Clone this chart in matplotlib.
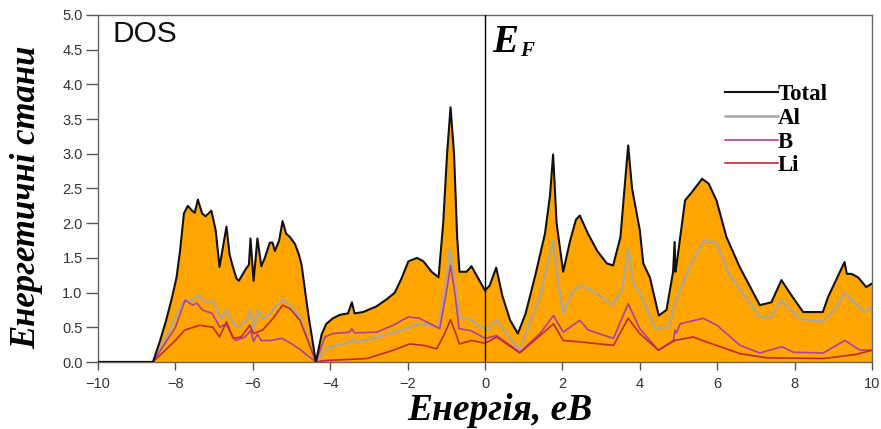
import matplotlib
matplotlib.use("Agg")
import matplotlib.pyplot as plt

# --- data (energy in eV, DOS) ---
total_e = [-10.0, -8.58, -8.4, -8.24, -8.1, -7.97, -7.88, -7.78, -7.68, -7.57, -7.50, -7.42,
           -7.31, -7.22, -7.07, -6.96, -6.86, -6.68, -6.60, -6.53, -6.42, -6.36, -6.17, -6.10,
           -6.06, -5.98, -5.88, -5.78, -5.69, -5.56, -5.49, -5.43, -5.32, -5.23, -5.14, -5.04,
           -4.91, -4.81, -4.74, -4.57, -4.37, -4.22, -4.10, -3.93, -3.75, -3.54, -3.44, -3.37,
           -3.15, -2.81, -2.55, -2.33, -2.16, -1.98, -1.76, -1.59, -1.38, -1.20, -1.08, -0.98,
           -0.89, -0.80, -0.72, -0.66, -0.48, -0.35, -0.22, 0.0, 0.12, 0.29, 0.45, 0.65,
           0.85, 1.05, 1.3, 1.55, 1.68, 1.76, 1.85, 2.02, 2.2, 2.35, 2.45, 2.58,
           2.66, 2.9, 3.15, 3.31, 3.50, 3.62, 3.70, 3.80, 4.00, 4.09, 4.26, 4.49,
           4.69, 4.86, 4.90, 4.92, 4.95, 5.17, 5.35, 5.61, 5.78, 5.98, 6.24, 6.58,
           7.10, 7.40, 7.66, 7.87, 8.22, 8.73, 8.86, 9.29, 9.35, 9.47, 9.64, 9.85, 10.0]
total_dos = [0.0, 0.0, 0.3, 0.6, 0.9, 1.22, 1.6, 2.14, 2.25, 2.18, 2.15, 2.34,
             2.14, 2.1, 2.18, 1.9, 1.37, 1.95, 1.55, 1.4, 1.2, 1.17, 1.35, 1.4,
             1.78, 1.17, 1.78, 1.38, 1.5, 1.72, 1.72, 1.6, 1.75, 2.03, 1.85, 1.8,
             1.7, 1.55, 1.4, 0.7, 0.0, 0.4, 0.55, 0.63, 0.68, 0.7, 0.86, 0.7,
             0.72, 0.8, 0.9, 1.0, 1.2, 1.45, 1.5, 1.45, 1.3, 1.22, 2.0, 3.0,
             3.67, 3.0, 1.8, 1.30, 1.30, 1.38, 1.25, 1.03, 1.1, 1.36, 0.95, 0.6,
             0.41, 0.7, 1.25, 1.85, 2.4, 2.99, 2.0, 1.30, 1.75, 2.05, 2.11, 1.95,
             1.85, 1.6, 1.42, 1.39, 1.8, 2.6, 3.12, 2.5, 1.9, 1.42, 1.22, 0.67,
             0.75, 1.3, 1.73, 1.3, 1.4, 2.33, 2.45, 2.64, 2.57, 2.33, 1.80, 1.37,
             0.82, 0.86, 1.18, 1.0, 0.72, 0.72, 0.93, 1.44, 1.27, 1.27, 1.22, 1.08, 1.13]

al_e = [-10.0, -8.58, -8.2, -7.95, -7.76, -7.6, -7.39, -7.2, -7.03, -6.81, -6.68, -6.55,
        -6.4, -6.15, -6.06, -5.98, -5.87, -5.75, -5.55, -5.4, -5.23, -5.04, -4.78, -4.37,
        -4.1, -3.5, -3.44, -3.38, -2.8, -2.2, -1.7, -1.2, -1.0, -0.9, -0.8, -0.65,
        -0.4, -0.1, 0.05, 0.29, 0.88, 1.4, 1.76, 1.9, 2.02, 2.25, 2.45, 2.7,
        3.3, 3.55, 3.7, 3.85, 4.0, 4.4, 4.75, 4.9, 5.35, 5.66, 5.98, 6.3,
        7.1, 7.4, 7.66, 8.13, 8.73, 9.1, 9.29, 9.5, 9.8, 10.0]
al_dos = [0.0, 0.0, 0.4, 0.7, 0.9, 0.88, 0.95, 0.85, 0.88, 0.62, 0.75, 0.6,
          0.5, 0.6, 0.75, 0.45, 0.75, 0.62, 0.7, 0.8, 0.9, 0.82, 0.65, 0.0,
          0.2, 0.28, 0.33, 0.28, 0.35, 0.45, 0.55, 0.5, 1.2, 1.65, 1.2, 0.62,
          0.62, 0.5, 0.46, 0.6, 0.17, 0.9, 1.75, 1.1, 0.70, 1.0, 1.1, 1.05,
          0.82, 1.05, 1.63, 1.1, 1.0, 0.48, 0.5, 0.84, 1.45, 1.75, 1.72, 1.27,
          0.65, 0.65, 0.89, 0.62, 0.58, 0.8, 1.0, 0.88, 0.72, 0.79]

b_e = [-10.0, -8.58, -8.0, -7.75, -7.55, -7.45, -7.3, -7.05, -6.85, -6.7, -6.6, -6.45,
       -6.2, -6.06, -5.98, -5.88, -5.78, -5.55, -5.25, -5.05, -4.8, -4.6, -4.37, -4.14,
       -3.93, -3.5, -3.44, -3.37, -2.8, -2.37, -1.98, -1.7, -1.34, -1.17, -1.0, -0.89,
       -0.78, -0.67, -0.35, 0.0, 0.3, 0.9, 1.42, 1.77, 2.02, 2.45, 2.67, 3.32,
       3.7, 4.0, 4.48, 4.87, 4.91, 4.95, 5.04, 5.64, 5.99, 6.59, 7.1, 7.67,
       7.97, 8.74, 9.3, 9.69, 10.0]
b_dos = [0.0, 0.0, 0.5, 0.89, 0.82, 0.85, 0.75, 0.7, 0.5, 0.55, 0.45, 0.31,
         0.36, 0.45, 0.3, 0.4, 0.31, 0.31, 0.34, 0.28, 0.19, 0.1, 0.0, 0.36,
         0.41, 0.43, 0.48, 0.42, 0.43, 0.53, 0.65, 0.63, 0.53, 0.48, 1.0, 1.39,
         1.0, 0.48, 0.45, 0.34, 0.38, 0.14, 0.41, 0.67, 0.43, 0.6, 0.46, 0.34,
         0.84, 0.48, 0.17, 0.31, 0.46, 0.42, 0.55, 0.63, 0.53, 0.24, 0.13, 0.22,
         0.14, 0.13, 0.31, 0.17, 0.17]

li_e = [-10.0, -8.58, -8.0, -7.76, -7.37, -7.03, -6.86, -6.68, -6.51, -6.3, -6.08, -5.98,
        -5.75, -5.49, -5.23, -5.04, -4.78, -4.57, -4.37, -4.14, -3.05, -2.37, -1.94, -1.59,
        -1.25, -1.05, -0.89, -0.75, -0.66, -0.35, 0.0, 0.3, 0.9, 1.42, 1.77, 2.02,
        2.45, 3.32, 3.7, 4.0, 4.48, 4.9, 5.38, 5.72, 6.59, 7.28, 8.74, 9.6, 10.0]
li_dos = [0.0, 0.0, 0.31, 0.46, 0.53, 0.5, 0.36, 0.58, 0.34, 0.36, 0.53, 0.41,
          0.46, 0.62, 0.82, 0.77, 0.6, 0.3, 0.0, 0.02, 0.05, 0.17, 0.26, 0.24,
          0.19, 0.4, 0.61, 0.4, 0.26, 0.31, 0.27, 0.36, 0.13, 0.38, 0.55, 0.31,
          0.29, 0.24, 0.63, 0.41, 0.17, 0.31, 0.36, 0.29, 0.12, 0.06, 0.05, 0.11, 0.17]

x_ticks = [-10, -8, -6, -4, -2, 0, 2, 4, 6, 8, 10]
y_ticks = [0.0, 0.5, 1.0, 1.5, 2.0, 2.5, 3.0, 3.5, 4.0, 4.5, 5.0]

serif = "Liberation Serif"
sans = "Liberation Sans"

fig = plt.figure(figsize=(8.81, 4.29), dpi=100)
ax = fig.add_axes([98 / 881, 67 / 429, 774 / 881, 347 / 429])

ax.fill_between(total_e, total_dos, 0, color="#ffa500", linewidth=0, zorder=1)
ax.plot(al_e, al_dos, color="#a8a8a8", lw=1.8, alpha=0.85, label="Al", zorder=2)
ax.plot(b_e, b_dos, color="#b0409a", lw=1.2, label="B", zorder=3)
ax.plot(li_e, li_dos, color="#c42834", lw=1.2, label="Li", zorder=3)
ax.plot(total_e, total_dos, color="#111111", lw=1.5, label="Total", zorder=4)
ax.axvline(0, color="black", lw=1.0, zorder=5)

ax.set_xlim(-10, 10)
ax.set_ylim(0, 5)
ax.set_xticks(x_ticks)
ax.set_yticks(y_ticks)
ax.set_xticklabels([str(t).replace("-", "\u2212") for t in x_ticks], fontfamily=sans)
ax.set_yticklabels([f"{t:.1f}" for t in y_ticks], fontfamily=sans)
ax.tick_params(axis="x", direction="out", length=6, width=1, color="#555555",
               labelsize=10.5, labelcolor="#333333", pad=5)
ax.tick_params(axis="y", direction="out", length=9, width=1, color="#555555",
               labelsize=10.5, labelcolor="#333333", pad=2)
for s in ax.spines.values():
    s.set_color("#666666")
    s.set_linewidth(1.0)

# texts
ax.text(-9.63, 4.93, "DOS", fontfamily=sans, fontsize=21.5, va="top", ha="left", color="#111111")
ax.text(0.18, 4.87, "E", fontfamily=serif, fontsize=28, fontweight="bold", fontstyle="italic",
        va="top", ha="left")
ax.text(0.9, 4.63, "F", fontfamily=serif, fontsize=15, fontweight="bold", fontstyle="italic",
        va="top", ha="left")

fig.text(500 / 881, 1 - 410 / 429, "Енергія, еВ", fontfamily=serif, fontsize=27,
         fontweight="bold", fontstyle="italic", ha="center", va="center")
fig.text(27 / 881, 1 - 197 / 429, "Енергетичні стани", fontfamily=serif, fontsize=25,
         fontweight="bold", fontstyle="italic", ha="center", va="center", rotation=90)

h, l = ax.get_legend_handles_labels()
order = [l.index(n) for n in ["Total", "Al", "B", "Li"]]
leg = ax.legend([h[i] for i in order], [l[i] for i in order],
                loc="upper left", bbox_to_anchor=((725 - 98) / 774, 1 - (84 - 15) / 347),
                frameon=False, handlelength=2.3, handletextpad=0.0, labelspacing=0.12,
                borderpad=0, borderaxespad=0,
                prop={"family": serif, "weight": "bold", "size": 16.5})
for line in leg.get_lines():
    line.set_alpha(1)

fig.savefig("out.png", dpi=100)
